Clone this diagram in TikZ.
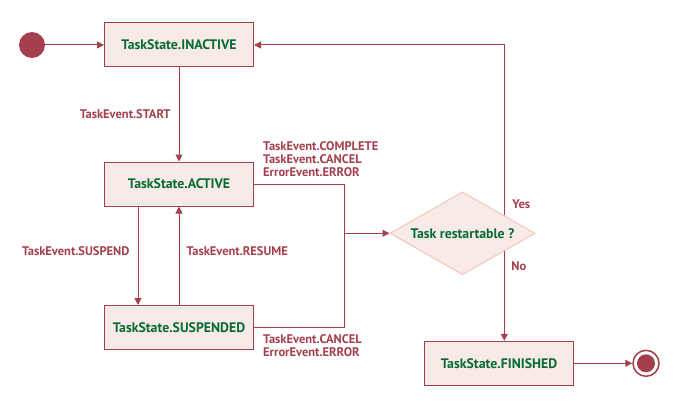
\documentclass[tikz,border=0pt]{standalone}
\usepackage{fontspec}
\setmainfont{PT Sans}
\usetikzlibrary{arrows.meta, positioning, shapes.geometric, calc}

\definecolor{edgered}{HTML}{A4404E}
\definecolor{boxfill}{HTML}{F8EBE7}
\definecolor{statetext}{HTML}{056B33}
\definecolor{diaborder}{HTML}{F0C6B6}

\tikzset{
  taskstate/.style={draw=edgered, fill=boxfill, text=statetext, line width=1pt,
    font=\bfseries\fontsize{13.8}{15}\selectfont, minimum width=149pt, minimum height=44pt, inner sep=0pt},
  decision/.style={diamond, aspect=1.75, draw=diaborder, fill=boxfill, text=statetext, line width=1pt,
    font=\bfseries\fontsize{13.8}{15}\selectfont, minimum width=145pt, minimum height=83pt, inner sep=0pt},
  event/.style={text=edgered, font=\bfseries\fontsize{12.5}{13.3}\selectfont, inner sep=0pt, align=left},
  startdot/.style={circle, fill=edgered, minimum size=26pt, inner sep=0pt},
  endring/.style={circle, draw=edgered, fill=white, line width=1.5pt, minimum size=26pt, inner sep=0pt},
  enddot/.style={circle, fill=edgered, minimum size=18pt, inner sep=0pt},
  wire/.style={draw=edgered, line width=1pt},
  flow/.style={wire, -{Triangle[length=7pt, width=7pt]}}
}

\begin{document}
\begin{tikzpicture}[x=1pt, y=-1pt]
        \useasboundingbox (0,0) rectangle (680,420);
        %
        \node [startdot] (start) at (32,45) {};
        \node [taskstate] (inactive) at (179,45) {TaskState.INACTIVE};
        \node [taskstate] (active) at (179,184) {TaskState.ACTIVE};
        \node [taskstate] (suspended) at (179,327.5) {TaskState.SUSPENDED};
        \node [decision] (restart) at (462.5,233.3) {Task restartable ?};
        \node [taskstate] (finished) at (499,363.3) {TaskState.FINISHED};
        \node [endring] (end) at (646,363.3) {};
        \node [enddot] (enddot) at (end) {};
        %
        \coordinate (merge) at (344,233.3);
        \coordinate (yes) at ($(restart.north east)!0.145!(restart.east)$);
        \coordinate (no) at ($(restart.south east)!0.145!(restart.east)$);
        %
        \draw [flow] (start) -- (inactive);
        \draw [flow] (inactive) -- node[event, left=8pt] (startlbl) {TaskEvent.START} (active);
        \draw [flow] ([xshift=-41pt]active.south) -- node[event, left=8pt, pos=0.45] (suspendlbl) {TaskEvent.SUSPEND} ([xshift=-41pt]suspended.north);
        \draw [flow] (suspended.north) -- node[event, right=7pt, pos=0.55] (resumelbl) {TaskEvent.RESUME} (active.south);
        \draw [wire] (active.east) -| (merge);
        \draw [wire] (suspended.east) -| (merge);
        \draw [flow] (merge) -- (restart.west);
        \draw [flow] (yes) |- (inactive.east);
        \draw [flow] (no) -- (no |- finished.north);
        \draw [flow] (finished) -- (end);
        %
        \node [event, anchor=west] (leavelbl) at ([xshift=9pt, yshift=24.7pt]active.east) {TaskEvent.COMPLETE\\TaskEvent.CANCEL\\ErrorEvent.ERROR};
        \node [event, anchor=west] (abortlbl) at ([xshift=9pt, yshift=-18.3pt]suspended.east) {TaskEvent.CANCEL\\ErrorEvent.ERROR};
        \node [event, anchor=west] (yeslbl) at ([xshift=8pt, yshift=11.5pt]yes) {Yes};
        \node [event, anchor=west] (nolbl) at ([xshift=7pt, yshift=-14.7pt]no) {No};
\end{tikzpicture}
\end{document}
